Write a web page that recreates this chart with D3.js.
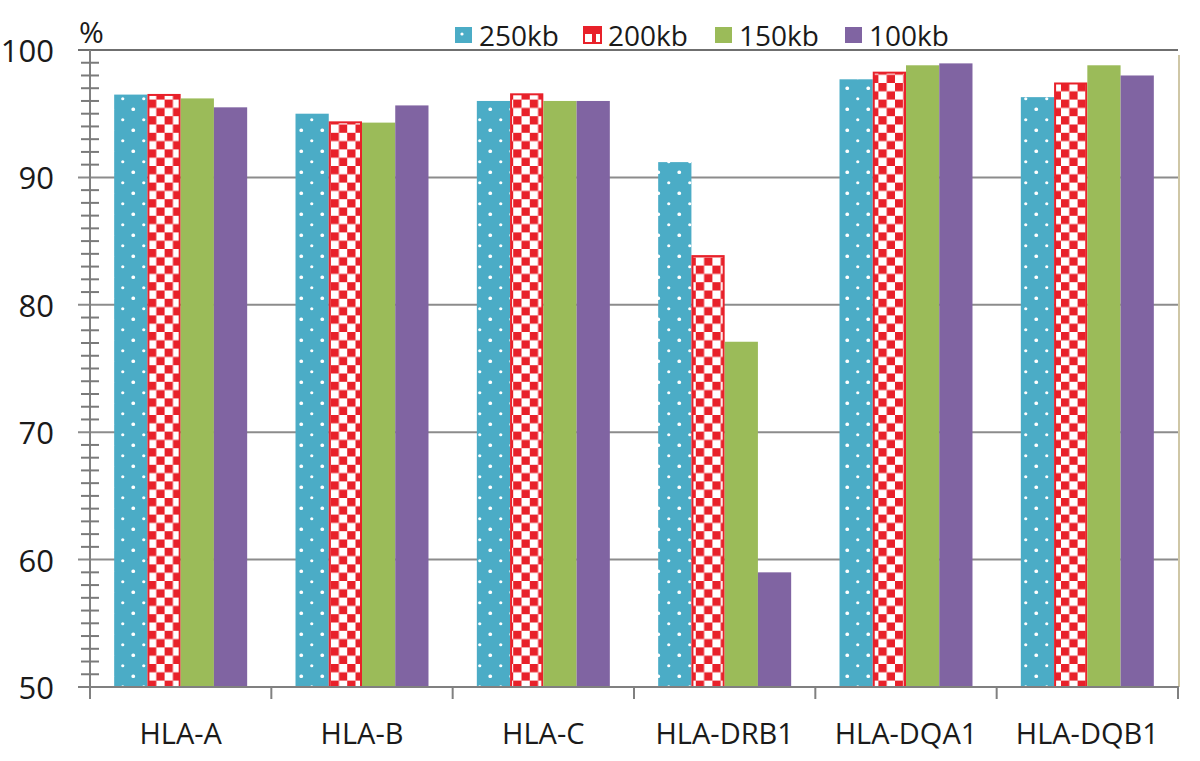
<!DOCTYPE html>
<html>
<head>
<meta charset="utf-8">
<script src="https://cdn.jsdelivr.net/npm/d3@7"></script>
<style>
  html, body { margin: 0; padding: 0; background: #fff; }
  svg { display: block; }
  text { font-family: "Open Sans", "Liberation Sans", sans-serif; fill: #1a1a1a; }
</style>
</head>
<body>
<svg id="chart" width="1200" height="761"></svg>
<script>
// ---- data ----
const categories = ["HLA-A", "HLA-B", "HLA-C", "HLA-DRB1", "HLA-DQA1", "HLA-DQB1"];
const seriesNames = ["250kb", "200kb", "150kb", "100kb"];
const values250 = [96.5, 95.0, 96.0, 91.2, 97.7, 96.3];
const values200 = [96.55, 94.4, 96.6, 83.9, 98.3, 97.45];
const values150 = [96.2, 94.3, 96.0, 77.1, 98.8, 98.8];
const values100 = [95.5, 95.65, 96.0, 59.0, 98.95, 98.0];
const yTicks = [50, 60, 70, 80, 90, 100];
const yMinorTicks = d3.range(50, 101, 1);

const seriesValues = [values250, values200, values150, values100];
const colors = { "250kb": "#4BACC6", "200kb": "#E8212A", "150kb": "#9BBB59", "100kb": "#8064A2" };

const svg = d3.select("#chart");

// ---- patterns ----
const defs = svg.append("defs");
const dots = defs.append("pattern").attr("id", "dots")
  .attr("patternUnits", "userSpaceOnUse").attr("width", 21).attr("height", 21)
  .attr("x", 7).attr("y", 4);
dots.append("rect").attr("width", 21).attr("height", 21).attr("fill", colors["250kb"]);
[[0.5, 0.5], [21, 0.5], [0.5, 21], [21, 21], [10.75, 10.75]].forEach(p =>
  dots.append("circle").attr("cx", p[0]).attr("cy", p[1]).attr("r", 1.6).attr("fill", "#fff"));

const chk = defs.append("pattern").attr("id", "checker")
  .attr("patternUnits", "userSpaceOnUse").attr("width", 16.6).attr("height", 16.6)
  .attr("x", 148).attr("y", 0);
chk.append("rect").attr("width", 16.6).attr("height", 16.6).attr("fill", "#fff");
chk.append("rect").attr("width", 8.3).attr("height", 8.3).attr("fill", colors["200kb"]);
chk.append("rect").attr("x", 8.3).attr("y", 8.3).attr("width", 8.3).attr("height", 8.3).attr("fill", colors["200kb"]);

const fills = { "250kb": "url(#dots)", "200kb": "url(#checker)", "150kb": colors["150kb"], "100kb": colors["100kb"] };

// ---- scales ----
const x0 = d3.scaleBand().domain(categories).range([90, 1178]).padding(0);
const x1 = d3.scaleBand().domain(seriesNames).range([0, x0.bandwidth()])
  .paddingInner(0).paddingOuter(0.727);
const y = d3.scaleLinear().domain([50, 100]).range([687, 50]);

// ---- gridlines ----
svg.append("g").selectAll("line").data(yTicks.filter(d => d > 50)).join("line")
  .attr("x1", 78).attr("x2", 1178)
  .attr("y1", d => y(d)).attr("y2", d => y(d))
  .attr("stroke", d => d === 100 ? "#6f6f6f" : "#8c8c8c").attr("stroke-width", 2);

// right border line
svg.append("line").attr("x1", 1179).attr("x2", 1179).attr("y1", 55).attr("y2", 687)
  .attr("stroke", "#cfc7a6").attr("stroke-width", 2);

// ---- bars ----
const rows = [];
categories.forEach((c, i) => seriesNames.forEach((s, j) => rows.push({ cat: c, s, v: seriesValues[j][i] })));

svg.append("g").selectAll("rect").data(rows).join("rect")
  .attr("x", d => x0(d.cat) + x1(d.s) + (d.s === "200kb" ? 1 : 0))
  .attr("y", d => y(d.v) + (d.s === "200kb" ? 1 : 0))
  .attr("width", d => x1.bandwidth() - (d.s === "200kb" ? 2 : 0))
  .attr("height", d => y(50) - y(d.v) - (d.s === "200kb" ? 1 : 0))
  .attr("fill", d => fills[d.s])
  .attr("stroke", d => d.s === "200kb" ? colors["200kb"] : "none")
  .attr("stroke-width", 2);

// ---- y axis ----
const yAxis = svg.append("g");
yAxis.append("line").attr("x1", 90).attr("x2", 90).attr("y1", y(100)).attr("y2", 699)
  .attr("stroke", "#808080").attr("stroke-width", 2);
yAxis.selectAll("line.minor").data(yMinorTicks.filter(d => d % 10 !== 0)).join("line")
  .attr("class", "minor")
  .attr("x1", 81).attr("x2", 99).attr("y1", d => y(d)).attr("y2", d => y(d))
  .attr("stroke", "#7a7a7a").attr("stroke-width", 2);
yAxis.selectAll("text").data(yTicks).join("text")
  .attr("x", 54).attr("y", d => y(d)).attr("text-anchor", "end")
  .attr("dominant-baseline", "central").attr("font-size", 31).text(d => d);
svg.append("text").attr("x", 79).attr("y", 43).attr("font-size", 30).text("%");

// ---- x axis ----
const xAxis = svg.append("g");
xAxis.append("line").attr("x1", 78).attr("x2", 1179).attr("y1", y(50)).attr("y2", y(50))
  .attr("stroke", "#808080").attr("stroke-width", 2);
const boundaries = categories.map(c => x0(c)).concat([x0(categories[categories.length - 1]) + x0.bandwidth()]);
xAxis.selectAll("line.tick").data(boundaries).join("line").attr("class", "tick")
  .attr("x1", d => d).attr("x2", d => d).attr("y1", y(50)).attr("y2", 699)
  .attr("stroke", "#808080").attr("stroke-width", 2);
xAxis.selectAll("text").data(categories).join("text")
  .attr("x", d => x0(d) + x0.bandwidth() / 2).attr("y", 744)
  .attr("text-anchor", "middle").attr("font-size", 29).text(d => d);

// ---- legend ----
const legendX = [455, 584, 715, 845];
const lg = svg.append("g").selectAll("g").data(seriesNames).join("g")
  .attr("transform", (d, i) => `translate(${legendX[i]},27)`);
lg.append("rect").attr("width", 17).attr("height", 16)
  .attr("fill", d => d === "200kb" ? "#fff" : colors[d])
  .attr("stroke", d => d === "200kb" ? colors[d] : "none").attr("stroke-width", 2);
lg.filter(d => d === "250kb").append("circle").attr("cx", 7).attr("cy", 7).attr("r", 1.6).attr("fill", "#fff");
lg.filter(d => d === "200kb").append("rect").attr("x", 1).attr("y", 1).attr("width", 15).attr("height", 6).attr("fill", colors["200kb"]);
lg.filter(d => d === "200kb").append("rect").attr("x", 8).attr("y", 7).attr("width", 4).attr("height", 8).attr("fill", colors["200kb"]);
lg.append("text").attr("x", 24).attr("y", 8).attr("dominant-baseline", "central")
  .attr("font-size", 28).text(d => d);
</script>
</body>
</html>
